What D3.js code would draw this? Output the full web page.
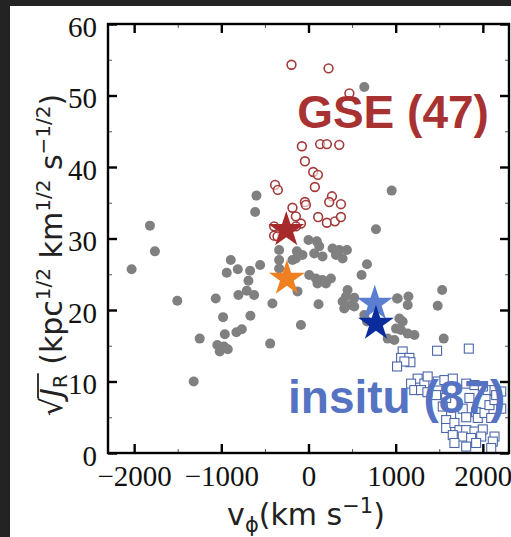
<!DOCTYPE html>
<html><head><meta charset="utf-8">
<script src="https://cdn.jsdelivr.net/npm/d3@7"></script>
<style>body{margin:0;background:#fff}svg{display:block}</style>
</head><body>
<script>
// ---------- data ----------
const xTicks = [-2000, -1000, 0, 1000, 2000];
const yTicks = [0, 10, 20, 30, 40, 50, 60];
const xMinor = [-2000,-1500,-1000,-500,0,500,1000,1500,2000];
const yMinor = [0,5,10,15,20,25,30,35,40,45,50,55,60];

// grey field points [vphi, sqrtJR]
const field = [
 [-1819,31.8],[-1762,28.2],[-2029,25.7],[-612,33.7],[-597,36.0],[-1505,21.3],[-1064,21.6],[-892,27.0],
 [-938,25.2],[-811,25.7],[-670,25.5],[-555,26.3],[-689,24.1],[-804,22.1],[-708,22.7],[-624,22.1],
 [-414,20.9],[-980,19.0],[-666,19.2],[-827,16.9],[-765,17.3],[-1248,16.0],[-960,16.6],[-1046,15.1],
 [-969,14.9],[-1018,14.2],[-926,14.5],[-440,15.3],[-1317,10.0],
 [0,29.8],[96,29.6],[123,28.9],[-337,28.4],[-133,28.2],[-145,27.2],[-184,27.0],[-69,27.7],[-337,27.0],
 [66,27.9],[161,27.5],[276,28.6],[353,28.4],[441,28.4],[315,27.7],[391,27.2],[671,26.4],[609,24.9],
 [-337,25.8],[8,24.9],[85,24.4],[161,24.2],[257,24.4],[200,23.7],[103,23.7],[-126,22.6],[115,20.8],
 [448,22.8],[430,21.9],[525,21.7],[391,21.2],[487,20.7],[410,20.2],[525,20.5],[640,19.3],[671,18.4],
 [1016,21.6],[1146,21.9],[1138,20.7],[1023,21.6],[-87,17.9],[1042,18.8],[1080,18.4],[1004,17.4],[1062,17.2],
 [1138,16.7],[1215,16.5],[908,16.0],[985,15.8],[774,31.3],[954,36.7],[640,51.2],
 [1533,22.8],[1482,20.6],[1551,16.0]
];
// GSE (open red circles)
const gse = [
 [-195,54.3],[230,53.8],[469,50.3],[-76,42.9],[134,43.2],[211,43.2],[353,43.1],[-41,40.8],[54,39.3],
 [108,38.9],[73,37.2],[-383,37.5],[-352,36.8],[-41,35.1],[-30,34.7],[269,35.9],[238,35.1],[372,34.8],
 [-184,34.3],[-145,33.1],[-87,32.1],[111,33.0],[211,32.2],[303,32.4],[372,33.0],[-394,31.7],[-394,30.4],
 [-356,30.3],[-145,31.7]
];
// in-situ (open blue squares)
const insitu = [
 [1475,14.3],[1839,14.6],[1080,14.2],[1062,13.3],[1157,13.3],[1169,12.7],[1100,12.8],[1016,12.1],
 [1252,10.4],[1177,9.7],[1329,9.7],[1214,8.8],[1367,10.7],[1291,8.8],[1482,10.0],[1559,10.2],[1655,10.4],
 [1809,9.7],[1904,9.5],[2057,8.8],[2134,8.8],[2211,8.6],[1464,8.1],[1579,7.7],[1540,6.5],[1636,5.3],
 [1579,4.6],[1579,3.5],[1674,4.2],[1769,6.2],[1809,5.0],[1923,5.7],[1942,4.9],[2019,5.6],[2096,4.9],
 [2076,6.7],[2134,7.4],[2211,6.2],[1732,3.2],[1809,3.2],[1904,3.0],[1999,3.3],[1655,2.5],[1769,2.3],
 [1866,2.1],[1981,2.3],[2134,2.3],[2114,1.6],[1674,1.4],[1809,0.9],[1923,1.4],[2096,0.7],
 [2000,9.3],[2153,8.1],[1364,8.5],[1846,7.7]
];
// mean stars
const stars = [
 {name:"GSE", v:-255, j:31.2, color:"#a62a2a"},
 {name:"orange", v:-248, j:24.4, color:"#f07f22"},
 {name:"insitu2", v:760, j:20.9, color:"#5b7fd0"},
 {name:"insitu", v:774, j:18.1, color:"#0b2c9c"}
];
const labels = [
 {text:"GSE (47)", v:-130, j:45.5, color:"#a83232"},
 {text:"insitu (87)", v:-235, j:5.6, color:"#5573c2"}
];

// ---------- chart ----------
const W = 511, H = 537;
const svg = d3.select("body").append("svg").attr("width", W).attr("height", H);
svg.append("rect").attr("width", W).attr("height", H).attr("fill", "#fff");
// dark frame strips of the screenshot
svg.append("rect").attr("x",0).attr("y",0).attr("width",W).attr("height",6).attr("fill","#232323");
svg.append("rect").attr("x",0).attr("y",0).attr("width",10).attr("height",H).attr("fill","#232323");

const x = d3.scaleLinear().domain([-2300, 2300]).range([108, 509]);
const y = d3.scaleLinear().domain([0, 60]).range([453, 24]);

const g = svg.append("g");
// points
g.selectAll("circle.field").data(field).join("circle")
  .attr("cx", d => x(d[0])).attr("cy", d => y(d[1])).attr("r", 5)
  .attr("fill", "#808080");
g.selectAll("circle.gse").data(gse).join("circle")
  .attr("cx", d => x(d[0])).attr("cy", d => y(d[1])).attr("r", 4.4)
  .attr("fill", "#fff").attr("fill-opacity", 0.6).attr("stroke", "#a33a3a").attr("stroke-width", 1.6);
g.selectAll("rect.ins").data(insitu).join("rect")
  .attr("x", d => x(d[0]) - 4.5).attr("y", d => y(d[1]) - 4.5).attr("width", 9).attr("height", 9)
  .attr("fill", "#fff").attr("stroke", "#4a67aa").attr("stroke-width", 1.1);
const star = d3.symbol().type(d3.symbolStar).size(400);
g.selectAll("path.star").data(stars).join("path")
  .attr("d", star).attr("transform", d => `translate(${x(d.v)},${y(d.j)})`)
  .attr("fill", d => d.color);

// annotation texts
g.selectAll("text.lab").data(labels).join("text")
  .attr("x", d => x(d.v)).attr("y", d => y(d.j))
  .attr("fill", d => d.color).attr("font-family", "Liberation Sans, Arial, sans-serif")
  .attr("font-weight", "bold").attr("font-size", 46)
  .text(d => d.text);

// axes
const serif = "Liberation Serif, Times New Roman, serif";
function styleAxis(sel, w, c) {
  sel.select(".domain").remove();
  sel.selectAll(".tick line").attr("stroke", c || "#000").attr("stroke-width", w);
}
svg.append("g").attr("transform", "translate(0,453)")
  .call(d3.axisBottom(x).tickValues(xMinor).tickSize(-4).tickFormat(""))
  .call(s => styleAxis(s, 1, "#555"));
svg.append("g").attr("transform", "translate(0,24)")
  .call(d3.axisTop(x).tickValues(xMinor).tickSize(-4).tickFormat(""))
  .call(s => styleAxis(s, 1, "#555"));
svg.append("g").attr("transform", "translate(108,0)")
  .call(d3.axisLeft(y).tickValues(yMinor).tickSize(-4).tickFormat(""))
  .call(s => styleAxis(s, 1, "#555"));
svg.append("g").attr("transform", "translate(509,0)")
  .call(d3.axisRight(y).tickValues(yMinor).tickSize(-4).tickFormat(""))
  .call(s => styleAxis(s, 1, "#555"));

const fmt = d => (d < 0 ? "\u2212" : "") + Math.abs(d);
const xb = svg.append("g").attr("transform", "translate(0,453)")
  .call(d3.axisBottom(x).tickValues(xTicks).tickSize(-9).tickPadding(0).tickFormat(fmt))
  .call(s => styleAxis(s, 2.4));
xb.selectAll("text").attr("y", 33).attr("dy", 0).attr("font-family", serif).attr("font-size", 29).attr("fill", "#111");
svg.append("g").attr("transform", "translate(0,24)")
  .call(d3.axisTop(x).tickValues(xTicks).tickSize(-9).tickFormat(""))
  .call(s => styleAxis(s, 2.4));
const yl = svg.append("g").attr("transform", "translate(108,0)")
  .call(d3.axisLeft(y).tickValues(yTicks).tickSize(-9).tickPadding(0).tickFormat(d3.format("d")))
  .call(s => styleAxis(s, 2.4));
yl.selectAll("text").attr("x", -11).attr("dy", "0.42em").attr("font-family", serif).attr("font-size", 29).attr("fill", "#111");
svg.append("g").attr("transform", "translate(509,0)")
  .call(d3.axisRight(y).tickValues(yTicks).tickSize(-9).tickFormat(""))
  .call(s => styleAxis(s, 2.4));

// frame
svg.append("rect").attr("x", 108).attr("y", 24).attr("width", 401).attr("height", 429)
  .attr("fill", "none").attr("stroke", "#000").attr("stroke-width", 2.4);

// axis titles
const sans = "DejaVu Sans, sans-serif";
const xt = svg.append("text").attr("x", 306).attr("y", 525).attr("text-anchor", "middle")
  .attr("font-family", sans).attr("font-size", 30).attr("fill", "#222");
xt.append("tspan").text("v");
xt.append("tspan").attr("font-size", 21).attr("dy", 7).text("\u03d5");
xt.append("tspan").attr("dy", -7).text("(km s");
xt.append("tspan").attr("font-size", 21).attr("dy", -12).text("\u22121");
xt.append("tspan").attr("dy", 12).text(")");

const yt = svg.append("text").attr("transform", "translate(62,255) rotate(-90)").attr("text-anchor", "middle")
  .attr("font-family", sans).attr("font-size", 30).attr("fill", "#222");
yt.append("tspan").text("\u221a");
yt.append("tspan").attr("font-style", "italic").text("J");
yt.append("tspan").attr("font-size", 20).attr("dy", 5).text("R");
yt.append("tspan").attr("dy", -5).text(" (kpc");
yt.append("tspan").attr("font-size", 20).attr("dy", -12).text("1/2");
yt.append("tspan").attr("dy", 12).text(" km");
yt.append("tspan").attr("font-size", 20).attr("dy", -12).text("1/2");
yt.append("tspan").attr("dy", 12).text(" s");
yt.append("tspan").attr("font-size", 20).attr("dy", -12).text("\u22121/2");
yt.append("tspan").attr("dy", 12).text(")");
// radical bar over J_R (chars 1..2 of the text)
{
  const node = yt.node();
  const s = node.getStartPositionOfChar(0);
  const e = node.getEndPositionOfChar(2);
  const sw = node.getEndPositionOfChar(0);
  svg.append("line").attr("transform", "translate(62,255) rotate(-90)")
    .attr("x1", sw.x - 1).attr("x2", e.x + 1).attr("y1", -24).attr("y2", -24)
    .attr("stroke", "#222").attr("stroke-width", 1.8);
}
</script>
</body></html>
